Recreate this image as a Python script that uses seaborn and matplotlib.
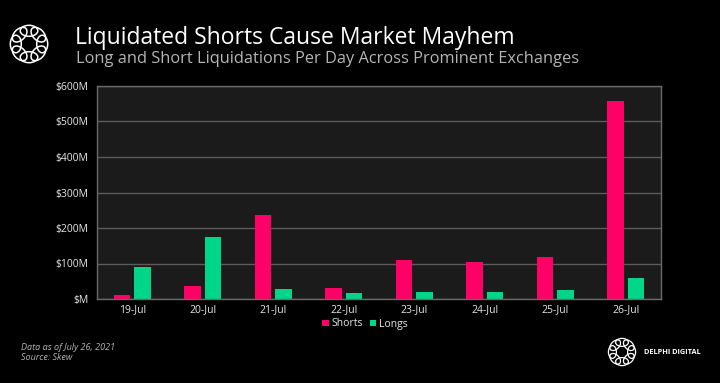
import numpy as np
import pandas as pd
import matplotlib
matplotlib.use("Agg")
import matplotlib.pyplot as plt
import seaborn as sns
from matplotlib.patches import Ellipse
from matplotlib.ticker import FuncFormatter, MultipleLocator

## data, $M liquidated per day ##
days = ["19-Jul", "20-Jul", "21-Jul", "22-Jul", "23-Jul", "24-Jul", "25-Jul", "26-Jul"]
shorts = [11, 38, 238, 31, 109, 105, 118, 558]
longs = [91, 175, 28, 17, 19, 19, 25, 59]

df = pd.DataFrame({
    "day": days * 2,
    "value": shorts + longs,
    "side": ["Shorts"] * len(days) + ["Longs"] * len(days),
})

sns.set_theme(style="dark")
plt.rcParams['font.family'] = ['Open Sans', 'DejaVu Sans']

W, H = 720, 383
fig = plt.figure(figsize=(7.2, 3.83), dpi=100, facecolor="black")


def fx(px):
    return px / W


def fy(py):
    return 1 - py / H


def draw_logo(cx, cy, r, lw=1.1):
    # ring of looped ellipses, roughly the delphi mark
    lax = fig.add_axes([fx(cx - r), fy(cy + r), 2 * r / W, 2 * r / H])
    lax.set_xlim(-1, 1)
    lax.set_ylim(-1, 1)
    lax.axis("off")
    for k in range(8):
        t = np.pi / 2 + k * np.pi / 4
        e = Ellipse((0.6 * np.cos(t), 0.6 * np.sin(t)), 0.8, 0.5,
                    angle=np.degrees(t) + 90, fill=False, ec="white", lw=lw)
        lax.add_patch(e)


## main chart ##
ax = fig.add_axes([fx(97), fy(299), fx(661) - fx(97), fy(86) - fy(299)])
ax.set_facecolor("#1c1b1c")
sns.barplot(data=df, x="day", y="value", hue="side",
            palette={"Shorts": "#ff0066", "Longs": "#00d68a"},
            width=0.58, gap=0.2, saturation=1, linewidth=0, ax=ax)

ax.set_xlim(-0.5, len(days) - 0.5)
ax.set_ylim(0, 600)
ax.yaxis.set_major_locator(MultipleLocator(100))
ax.yaxis.set_major_formatter(FuncFormatter(lambda v, p: "$M" if v == 0 else f"${int(v)}M"))
ax.set_axisbelow(True)
ax.yaxis.grid(True, color="#5c5c5c", lw=1)
ax.xaxis.grid(False)
for s in ax.spines.values():
    s.set_visible(True)
    s.set_color("#6a6a6a")
    s.set_linewidth(1)
ax.tick_params(axis="both", colors="#e6e6e6", labelsize=7.5, length=0)
ax.tick_params(axis="y", pad=6)
ax.tick_params(axis="x", pad=4)
ax.set_xlabel("")
ax.set_ylabel("")

ax.legend(loc="center", bbox_to_anchor=(fx(365), fy(324)), bbox_transform=fig.transFigure,
          ncol=2, frameon=False, fontsize=7.5, labelcolor="#e6e6e6",
          handlelength=0.6, handleheight=0.6, handletextpad=0.3, columnspacing=0.6,
          borderpad=0, borderaxespad=0)

## titles ##
fig.text(fx(75), fy(38), "Liquidated Shorts Cause Market Mayhem", color="white",
         fontsize=16.5, va="center", ha="left")
fig.text(fx(76), fy(59), "Long and Short Liquidations Per Day Across Prominent Exchanges",
         color="#b4b4b4", fontsize=11.8, va="center", ha="left")

## footer ##
fig.text(fx(21), fy(347), "Data as of July 26, 2021", color="#b4b4b4", fontsize=6.5,
         style="italic", va="center")
fig.text(fx(21), fy(357), "Source: Skew", color="#b4b4b4", fontsize=6.5,
         style="italic", va="center")
fig.text(fx(644), fy(353), "DELPHI DIGITAL", color="white", fontsize=5.3,
         weight="bold", va="center")

draw_logo(29, 44, 22)
draw_logo(622, 352, 16, lw=0.9)

fig.savefig("out.png", dpi=100, facecolor="black")
